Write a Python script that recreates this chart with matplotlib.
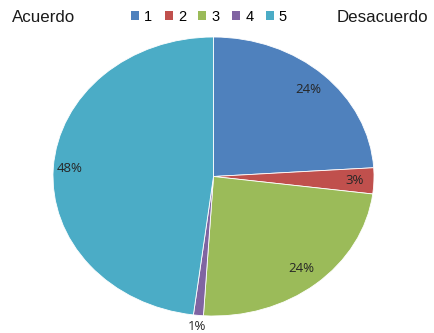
import numpy as np
import matplotlib
matplotlib.use("Agg")
import matplotlib.pyplot as plt
from matplotlib.patches import Patch

labels = ["1", "2", "3", "4", "5"]
values = [24, 3, 24, 1, 48]
colors = ["#4F81BD", "#C0504D", "#9BBB59", "#8064A2", "#4BACC6"]
pct_text = ["24%", "3%", "24%", "1%", "48%"]
left_title = "Acuerdo"
right_title = "Desacuerdo"

fig = plt.figure(figsize=(4.35, 3.33), dpi=100)
# pie axes stretched a bit wider than tall
ax = fig.add_axes([53 / 435, 17 / 333, 321 / 435, 279 / 333])
wedges, _ = ax.pie(values, colors=colors, startangle=90, counterclock=False,
                   wedgeprops=dict(edgecolor="white", linewidth=0.6))
ax.set_aspect("auto")
ax.set_xlim(-1, 1)
ax.set_ylim(-1, 1)

# percentage labels, the tiny slice sits outside
dist = [0.86, 0.88, 0.86, 1.08, 0.9]
for w, t, d in zip(wedges, pct_text, dist):
    ang = np.deg2rad((w.theta1 + w.theta2) / 2)
    ax.text(d * np.cos(ang), d * np.sin(ang), t, ha="center", va="center",
            fontsize=9.5, color="#262626", family="Open Sans")

handles = [Patch(facecolor=c, edgecolor="none") for c in colors]
fig.legend(handles, labels, loc="center", bbox_to_anchor=(209 / 435, 1 - 17 / 333),
           ncol=5, frameon=False, handlelength=0.55, handleheight=0.55,
           handletextpad=0.35, columnspacing=0.85,
           prop=dict(family="Liberation Sans", size=10.5))
fig.text(12 / 435, 1 - 17 / 333, left_title, ha="left", va="center",
         fontsize=12.2, family="Liberation Sans", color="#1a1a1a")
fig.text(428 / 435, 1 - 17 / 333, right_title, ha="right", va="center",
         fontsize=12.2, family="Liberation Sans", color="#1a1a1a")

fig.savefig("out.png", dpi=100)
